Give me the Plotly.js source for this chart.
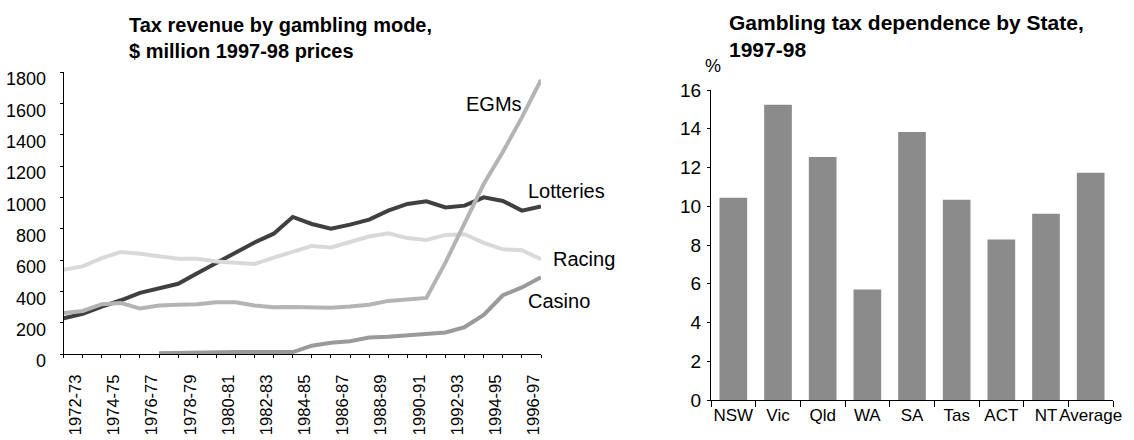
<!DOCTYPE html>
<html>
<head>
<meta charset="utf-8">
<script src="https://cdn.plot.ly/plotly-3.0.1.min.js"></script>
<style>
  html, body { margin: 0; padding: 0; background: #ffffff; }
  #chart { width: 1134px; height: 440px; }
</style>
</head>
<body>
<div id="chart"></div>
<script>
// ---------- Data: left chart (tax revenue by gambling mode, $m 1997-98 prices) ----------
const years = ['1972-73','1973-74','1974-75','1975-76','1976-77','1977-78','1978-79',
  '1979-80','1980-81','1981-82','1982-83','1983-84','1984-85','1985-86','1986-87',
  '1987-88','1988-89','1989-90','1990-91','1991-92','1992-93','1993-94','1994-95',
  '1995-96','1996-97','1997-98'];
const lotteries = [228, 256, 303, 343, 390, 420, 448, 516, 580, 648, 712, 768, 875, 830,
  800, 826, 858, 915, 958, 975, 935, 947, 1000, 977, 915, 941];
const racing = [538, 559, 612, 651, 640, 627, 608, 608, 590, 582, 575, 615, 655, 690,
  680, 712, 750, 770, 740, 728, 760, 765, 710, 668, 662, 605];
const casino = [null, null, null, null, null, 5, 8, 10, 12, 12, 12, 12, 12, 53,
  72, 82, 105, 110, 118, 127, 137, 172, 250, 375, 425, 490];
const egms = [262, 275, 318, 325, 290, 310, 315, 318, 330, 330, 310, 298, 300, 300,
  296, 303, 314, 339, 346, 358, 585, 830, 1085, 1290, 1510, 1750];
const seriesNames = ['Lotteries', 'Racing', 'Casino', 'EGMs'];

// ---------- Data: right chart (gambling tax dependence by State, 1997-98) ----------
const states = ['NSW', 'Vic', 'Qld', 'WA', 'SA', 'Tas', 'ACT', 'NT', 'Average'];
const dependence = [10.44, 15.24, 12.54, 5.70, 13.83, 10.33, 8.28, 9.61, 11.73];

// ---------- Tick labels ----------
const yearTickText = years.map((y, i) => (i % 2 === 0 ? y : ''));
const leftYTicks = [0, 200, 400, 600, 800, 1000, 1200, 1400, 1600, 1800];
const rightYTicks = [0, 2, 4, 6, 8, 10, 12, 14, 16];

const FONT = 'Liberation Sans, Arial, Helvetica, sans-serif';
const W = 1134, H = 440;
const px = v => v / W;
const py = v => 1 - v / H;

const lineColors = { Lotteries: '#404040', Racing: '#d9d9d9', Casino: '#9a9a9a', EGMs: '#b4b4b4' };
const seriesData = { Lotteries: lotteries, Racing: racing, Casino: casino, EGMs: egms };

const traces = seriesNames.map(name => ({
  type: 'scatter', mode: 'lines', name: name,
  x: years, y: seriesData[name],
  xaxis: 'x', yaxis: 'y',
  line: { color: lineColors[name], width: 4 },
  connectgaps: false, hoverinfo: 'x+y+name'
}));

traces.push({
  type: 'bar', name: 'Gambling tax dependence',
  x: states, y: dependence, xaxis: 'x2', yaxis: 'y2',
  marker: { color: '#8b8b8b', line: { width: 0 } }
});

const leftXDomain = [px(63.6), px(541)];
const leftYDomain = [py(354), py(72)];
const rightXDomain = [px(711), px(1113)];
const rightYDomain = [py(400), py(90)];

const layout = {
  width: W, height: H,
  margin: { l: 0, r: 0, t: 0, b: 0, pad: 0 },
  paper_bgcolor: '#ffffff', plot_bgcolor: 'rgba(0,0,0,0)',
  showlegend: false,
  font: { family: FONT, size: 18, color: '#000000' },
  bargap: 0.38,
  xaxis: {
    type: 'category', domain: leftXDomain, anchor: 'y',
    range: [0, years.length - 1],
    tickmode: 'array', tickvals: years, ticktext: yearTickText,
    tickangle: -90, ticks: 'outside', ticklen: 3, tickwidth: 1, tickcolor: '#000',
    ticklabelshift: 12, ticklabelstandoff: 10,
    tickfont: { family: FONT, size: 16.5, color: '#000' },
    showline: true, linecolor: '#000', linewidth: 1,
    showgrid: false, zeroline: false, fixedrange: true
  },
  yaxis: {
    domain: leftYDomain, anchor: 'x', range: [0, 1800],
    tickmode: 'array', tickvals: leftYTicks,
    ticks: 'outside', ticklen: 3, tickwidth: 1, tickcolor: '#000',
    ticklabelshift: 7, ticklabelstandoff: 10,
    tickfont: { family: FONT, size: 18, color: '#000' },
    showline: true, linecolor: '#000', linewidth: 1,
    showgrid: false, zeroline: false, fixedrange: true
  },
  xaxis3: {
    overlaying: 'x', anchor: 'y', type: 'linear', range: [0, years.length - 1],
    tickmode: 'linear', tick0: 0, dtick: 1,
    ticks: 'inside', ticklen: 3, tickwidth: 1, tickcolor: '#000',
    showticklabels: false, showline: false, showgrid: false, zeroline: false, fixedrange: true
  },
  yaxis3: {
    overlaying: 'y', anchor: 'x', side: 'left', range: [0, 1800],
    tickmode: 'linear', tick0: 0, dtick: 200,
    ticks: 'inside', ticklen: 3, tickwidth: 1, tickcolor: '#000',
    showticklabels: false, showline: false, showgrid: false, zeroline: false, fixedrange: true
  },
  xaxis2: {
    type: 'category', domain: rightXDomain, anchor: 'y2',
    tickangle: 0,
    tickson: 'boundaries', ticks: 'outside', ticklen: 6, tickwidth: 1, tickcolor: '#000',
    ticklabelstandoff: 0,
    tickfont: { family: FONT, size: 17, color: '#000' },
    showline: true, linecolor: '#000', linewidth: 1,
    showgrid: false, zeroline: false, fixedrange: true
  },
  yaxis2: {
    domain: rightYDomain, anchor: 'x2', range: [0, 16],
    tickmode: 'array', tickvals: rightYTicks,
    ticks: 'outside', ticklen: 3, tickwidth: 1, tickcolor: '#000',
    ticklabelstandoff: 2,
    tickfont: { family: FONT, size: 19, color: '#000' },
    showline: true, linecolor: '#000', linewidth: 1,
    showgrid: false, zeroline: false, fixedrange: true
  },
  annotations: [
    { xref: 'paper', yref: 'paper', x: px(127), y: py(12), xanchor: 'left', yanchor: 'top',
      align: 'left', showarrow: false,
      text: '<b>Tax revenue by gambling mode,<br>$ million 1997-98 prices</b>',
      font: { family: FONT, size: 20, color: '#000' } },
    { xref: 'paper', yref: 'paper', x: px(727), y: py(9), xanchor: 'left', yanchor: 'top',
      align: 'left', showarrow: false,
      text: '<b>Gambling tax dependence by State,<br>1997-98</b>',
      font: { family: FONT, size: 21, color: '#000' } },
    { xref: 'paper', yref: 'paper', x: px(703), y: py(66), xanchor: 'left', yanchor: 'middle',
      showarrow: false, text: '%', font: { family: FONT, size: 18, color: '#000' } },
    { xref: 'paper', yref: 'paper', x: px(464), y: py(104), xanchor: 'left', yanchor: 'middle',
      showarrow: false, text: 'EGMs', font: { family: FONT, size: 20, color: '#000' } },
    { xref: 'paper', yref: 'paper', x: px(526), y: py(191), xanchor: 'left', yanchor: 'middle',
      showarrow: false, text: 'Lotteries', font: { family: FONT, size: 20, color: '#000' } },
    { xref: 'paper', yref: 'paper', x: px(551), y: py(259), xanchor: 'left', yanchor: 'middle',
      showarrow: false, text: 'Racing', font: { family: FONT, size: 20, color: '#000' } },
    { xref: 'paper', yref: 'paper', x: px(526), y: py(301), xanchor: 'left', yanchor: 'middle',
      showarrow: false, text: 'Casino', font: { family: FONT, size: 20, color: '#000' } }
  ]
};

Plotly.newPlot('chart', traces, layout, { staticPlot: true, displayModeBar: false });
</script>
</body>
</html>
